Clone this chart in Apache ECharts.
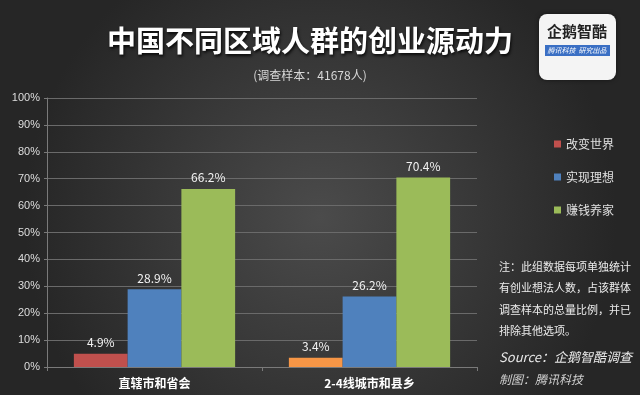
<!DOCTYPE html>
<html><head><meta charset="utf-8">
<script src="https://cdn.jsdelivr.net/npm/echarts@6/dist/echarts.min.js"></script>
<style>html,body{margin:0;padding:0;background:#333}#c{width:640px;height:395px}</style>
</head><body><div id="c"></div>
<script>
const categories = ['直辖市和省会', '2-4线城市和县乡'];
const seriesNames = ['改变世界', '实现理想', '赚钱养家'];
const changeWorld = [4.9, 3.4];
const realizeDream = [28.9, 26.2];
const earnMoney = [66.2, 70.4];
const yTicks = [0, 10, 20, 30, 40, 50, 60, 70, 80, 90, 100];

const colors = ['#c0504d', '#4f81bd', '#9bbb59'];
const chart = echarts.init(document.getElementById('c'));
const lbl = {show: true, position: 'top', color: '#f2f2f2', fontSize: 12, fontFamily: 'Noto Sans CJK SC', formatter: p => p.value.toFixed(1) + '%', distance: 5};
const cjk = 'Noto Sans CJK SC';
chart.setOption({
  backgroundColor: {type: 'radial', x: 0.5, y: 0.55, r: 0.75, colorStops: [{offset: 0, color: '#4b4b4b'}, {offset: 1, color: '#262626'}]},
  animation: false,
  title: [{
    text: '中国不同区域人群的创业源动力', left: 305, top: 21, textAlign: 'center',
    textStyle: {color: '#ffffff', fontSize: 29, fontWeight: 'bold', fontFamily: cjk, textShadowColor: 'rgba(0,0,0,0.8)', textShadowBlur: 3, textShadowOffsetX: 1, textShadowOffsetY: 2}
  }, {
    text: '(调查样本：41678人)', left: 305, top: 64, textAlign: 'center',
    textStyle: {color: '#d8d8d8', fontSize: 12, fontWeight: 'normal', fontFamily: cjk}
  }],
  legend: {
    orient: 'vertical', left: 549, top: 133, itemGap: 21, itemWidth: 7, itemHeight: 7, icon: 'rect',
    textStyle: {color: '#e0e0e0', fontSize: 12, fontFamily: cjk},
    data: seriesNames
  },
  grid: {left: 47, right: 163, top: 98, bottom: 28},
  xAxis: {
    type: 'category', data: categories,
    axisLine: {lineStyle: {color: '#7a7a7a'}},
    axisTick: {show: true, lineStyle: {color: '#7a7a7a'}, length: 4},
    axisLabel: {color: '#ffffff', fontSize: 12, fontWeight: 'bold', fontFamily: cjk, margin: 10}
  },
  yAxis: {
    type: 'value', min: 0, max: 100, interval: 10,
    axisLine: {show: true, lineStyle: {color: '#7a7a7a'}},
    axisTick: {show: true, lineStyle: {color: '#7a7a7a'}, length: 3},
    axisLabel: {color: '#dddddd', fontSize: 11, fontFamily: 'Liberation Sans', formatter: v => v + '%', margin: 7},
    splitLine: {lineStyle: {color: '#6a6a6a'}}
  },
  color: colors,
  series: [
    {name: seriesNames[0], type: 'bar', barGap: '0%', barCategoryGap: '25%', label: lbl,
     data: changeWorld.map((v, i) => i === 1 ? {value: v, itemStyle: {color: '#f79646'}} : v)},
    {name: seriesNames[1], type: 'bar', label: lbl, data: realizeDream},
    {name: seriesNames[2], type: 'bar', label: lbl, data: earnMoney}
  ],
  graphic: [
    {type: 'rect', shape: {x: 539, y: 14, width: 77, height: 66, r: 8}, style: {fill: '#f4f4f4', shadowColor: 'rgba(0,0,0,0.5)', shadowBlur: 4}},
    {type: 'text', style: {x: 577, y: 31, text: '企鹅智酷', fill: '#222', font: 'bold 15px "Noto Sans CJK SC"', textAlign: 'center', textVerticalAlign: 'middle'}},
    {type: 'rect', shape: {x: 545, y: 45, width: 65, height: 11}, style: {fill: '#3a6fc4'}},
    {type: 'text', style: {x: 577, y: 50.5, text: '腾讯科技  研究出品', fill: '#fff', font: 'italic 7px "Noto Sans CJK SC"', textAlign: 'center', textVerticalAlign: 'middle'}},
    {type: 'text', style: {x: 499, y: 256, text: '注：此组数据每项单独统计\n有创业想法人数，占该群体\n调查样本的总量比例，并已\n排除其他选项。', fill: '#ececec', font: '11px "Noto Sans CJK SC"', lineHeight: 21.5}},
    {type: 'text', style: {x: 499, y: 351, text: 'Source：企鹅智酷调查', fill: '#e8e8e8', font: 'italic 13px "Noto Sans CJK SC"'}},
    {type: 'text', style: {x: 499, y: 373, text: '制图：腾讯科技', fill: '#cfcfcf', font: 'italic 12px "Noto Sans CJK SC"'}}
  ]
});
</script></body></html>
